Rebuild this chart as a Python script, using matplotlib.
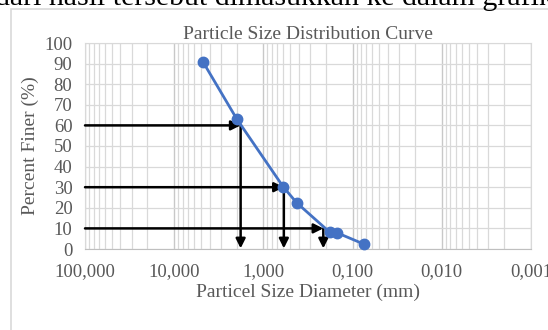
import numpy as np
import matplotlib
matplotlib.use("Agg")
import matplotlib.pyplot as plt
from matplotlib.ticker import FixedLocator, FuncFormatter, LogLocator, NullFormatter
from matplotlib.patches import Rectangle

# sieve data
diameter = [4.75, 2.0, 0.6, 0.425, 0.18, 0.15, 0.075]
percent_finer = [90.8, 63.3, 30.2, 22.5, 8.1, 7.9, 2.4]

# D60 / D30 / D10 guides
guide_pct = [60, 30, 10]
guide_d = [1.8, 0.59, 0.213]

x_ticks = [100, 10, 1, 0.1, 0.01, 0.001]
y_ticks = list(range(0, 101, 10))

plt.rcParams["font.family"] = ["Liberation Serif", "DejaVu Serif"]
TXT = "#595959"

fig = plt.figure(figsize=(5.48, 3.30), dpi=100)

# piece of the document text above the chart, cut off at the top
fig.text(-0.01, 1 - 5 / 330, "dari hasil tersebut dimasukkan ke dalam grafik",
         fontsize=21.5, color="black", va="baseline", ha="left")

# chart frame
fig.patches.append(Rectangle((11 / 548, -0.1), 1.2, 1 - 9 / 330 + 0.1,
                             transform=fig.transFigure, fill=False,
                             edgecolor="#D9D9D9", linewidth=1.2))

ax = fig.add_axes([85 / 548, 1 - 249 / 330, 446 / 548, 206 / 330])

ax.set_xscale("log")
ax.set_xlim(100, 0.001)
ax.set_ylim(0, 100)

ax.xaxis.set_major_locator(FixedLocator(x_ticks))
ax.xaxis.set_minor_locator(LogLocator(base=10, subs=np.arange(2, 10)))
ax.xaxis.set_minor_formatter(NullFormatter())
ax.xaxis.set_major_formatter(FuncFormatter(lambda v, p: f"{v:.3f}".replace(".", ",")))
ax.yaxis.set_major_locator(FixedLocator(y_ticks))

ax.grid(True, which="major", axis="x", color="#C8C8C8", linewidth=1.0)
ax.grid(True, which="minor", axis="x", color="#D9D9D9", linewidth=0.9)
ax.grid(True, which="major", axis="y", color="#D9D9D9", linewidth=0.9)
ax.set_axisbelow(True)

for s in ax.spines.values():
    s.set_color("#D9D9D9")
ax.spines["bottom"].set_color("#BFBFBF")

ax.tick_params(which="both", length=0, colors=TXT, labelsize=13.5)
ax.tick_params(axis="x", pad=10)
ax.tick_params(axis="y", pad=9)

# guide arrows
for p, d in zip(guide_pct, guide_d):
    ax.annotate("", xy=(d, p), xytext=(100, p),
                arrowprops=dict(arrowstyle="-|>", color="black", lw=1.8,
                                mutation_scale=14, shrinkA=0, shrinkB=0))
    ax.annotate("", xy=(d, 0.3), xytext=(d, p),
                arrowprops=dict(arrowstyle="-|>", color="black", lw=1.8,
                                mutation_scale=14, shrinkA=0, shrinkB=0))

ax.plot(diameter, percent_finer, color="#4472C4", lw=2, marker="o",
        markersize=7.5, zorder=5, clip_on=False)

ax.set_title("Particle Size Distribution Curve", fontsize=14, color=TXT, pad=3)
ax.set_xlabel("Particel Size Diameter (mm)", fontsize=14, color=TXT, labelpad=3)
ax.set_ylabel("Percent Finer (%)", fontsize=14, color=TXT, labelpad=4)

fig.savefig("out.png", dpi=100)
